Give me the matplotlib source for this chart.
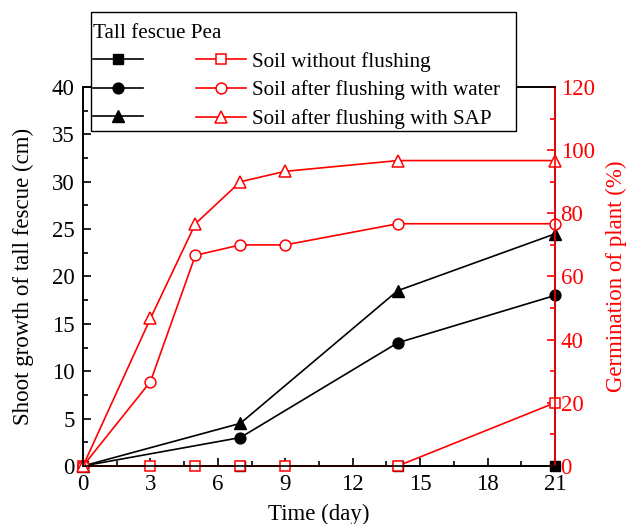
import numpy as np
import matplotlib
matplotlib.use("Agg")
import matplotlib.pyplot as plt
from matplotlib.ticker import MultipleLocator
from matplotlib.offsetbox import DrawingArea, VPacker, HPacker

# tall fescue shoot growth (cm), left axis
days_fescue = [0, 7, 14, 21]
fescue_none = [0, 0, 0, 0]
fescue_water = [0, 3, 13, 18]
fescue_sap = [0, 4.5, 18.5, 24.5]

# pea germination (%), right axis
days_pea = [0, 3, 5, 7, 9, 14, 21]
pea_none = [0, 0, 0, 0, 0, 0, 20]
pea_water = [0, 26.7, 66.7, 70, 70, 76.7, 76.7]
pea_sap = [0, 46.7, 76.7, 90, 93.3, 96.7, 96.7]

labels = ["Soil without flushing", "Soil after flushing with water",
          "Soil after flushing with SAP"]
markers = ["s", "o", "^"]
msizes = [6.8, 7.8, 8.2]
RED = "#ff0000"

plt.rcParams.update({
    "font.family": "serif",
    "font.serif": ["Liberation Serif", "DejaVu Serif"],
    "font.size": 16.5,
})

fig = plt.figure(figsize=(6.26, 5.24), dpi=100)
ax = fig.add_axes([0.1326, 0.1107, 0.754, 0.7233])
ax2 = ax.twinx()

h_black = []
for y, m, ms in zip([fescue_none, fescue_water, fescue_sap], markers, msizes):
    ln, = ax.plot(days_fescue, y, color="black", marker=m, markersize=ms,
                  linewidth=1.2, markerfacecolor="black", clip_on=False)
    h_black.append(ln)

h_red = []
for y, m, ms in zip([pea_none, pea_water, pea_sap], markers, msizes):
    ln, = ax2.plot(days_pea, y, color=RED, marker=m, markersize=ms,
                   linewidth=1.2, markerfacecolor="white",
                   markeredgewidth=1.1, clip_on=False)
    h_red.append(ln)

ax.set_xlim(0, 21)
ax.set_ylim(0, 40)
ax2.set_ylim(0, 120)
ax.xaxis.set_major_locator(MultipleLocator(3))
ax.xaxis.set_minor_locator(MultipleLocator(1.5))
ax.yaxis.set_major_locator(MultipleLocator(5))
ax.yaxis.set_minor_locator(MultipleLocator(2.5))
ax2.yaxis.set_major_locator(MultipleLocator(20))
ax2.yaxis.set_minor_locator(MultipleLocator(10))

ax.tick_params(which="both", direction="in", width=1.2)
ax.tick_params(which="major", length=6)
ax.tick_params(which="minor", length=3.5)
ax.tick_params(axis="y", pad=6)
ax.tick_params(axis="x", pad=5.5)
ax2.tick_params(which="both", direction="in", colors=RED, width=1.2, pad=4)
ax2.tick_params(which="major", length=6)
ax2.tick_params(which="minor", length=3.5)

for sp in ax.spines.values():
    sp.set_linewidth(1.2)
for sp in ax2.spines.values():
    sp.set_linewidth(1.2)
ax2.spines["right"].set_color(RED)

ax.set_xlabel("Time (day)", labelpad=6.5)
ax.set_ylabel("Shoot growth of tall fescue (cm)", labelpad=13)
ax2.set_ylabel("Germination of plant (%)", color=RED, labelpad=8)

leg = ax2.legend(h_black + h_red, ["", "", ""] + labels, ncol=2,
                 loc="upper left", bbox_to_anchor=(0.017, 1.198),
                 fontsize=15.2, title="Tall fescue Pea", title_fontsize=15.2,
                 alignment="left",
                 frameon=True, fancybox=False, framealpha=1,
                 edgecolor="black", handlelength=2.37, handletextpad=0.3,
                 columnspacing=2.2, labelspacing=0.42, borderpad=0.1,
                 borderaxespad=0)
leg.get_frame().set_linewidth(1.0)
leg.set_zorder(10)
# extra room above the header row and right of the labels, as in the original
box = leg._legend_box
box._children[0] = VPacker(pad=0, sep=0, align="left",
                           children=[DrawingArea(1, 7), leg._legend_title_box])
box._children[1] = HPacker(pad=0, sep=0, align="top",
                           children=[leg._legend_handle_box, DrawingArea(10, 1)])

fig.savefig("out.png", dpi=100)
